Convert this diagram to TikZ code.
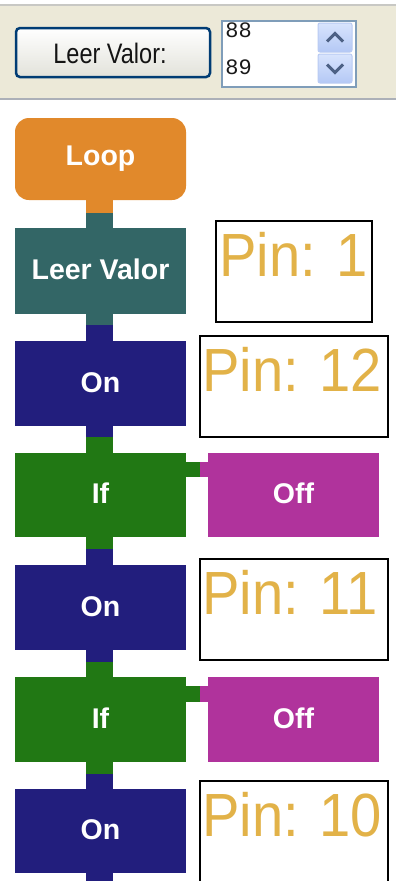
\documentclass[tikz,border=0pt]{standalone}
\usepackage{fontspec}
\setmainfont{Liberation Sans}
\newfontfamily\monof{Liberation Mono}
\usetikzlibrary{calc}
\definecolor{panelbg}{RGB}{236,233,216}
\definecolor{toplinec}{RGB}{200,200,196}
\definecolor{botlinec}{RGB}{172,176,184}
\definecolor{btnborder}{RGB}{0,60,116}
\definecolor{lstborder}{RGB}{127,157,185}
\definecolor{sbtop}{RGB}{216,228,253}
\definecolor{sbbot}{RGB}{180,200,245}
\definecolor{sbborder}{RGB}{185,203,243}
\definecolor{chevc}{RGB}{77,97,133}
\definecolor{cloop}{RGB}{225,137,43}
\definecolor{cteal}{RGB}{51,102,102}
\definecolor{cnavy}{RGB}{34,30,125}
\definecolor{cgreen}{RGB}{33,120,20}
\definecolor{cmag}{RGB}{176,51,156}
\definecolor{cgold}{RGB}{226,178,72}
\newcommand{\stubdown}[5]{%
  \fill[#3] ($(#1.south)+(-14.5,0)$) rectangle ($(#1.south)+(12.5,-#5)$);
  \fill[#4] ($(#1.south)+(-14.5,-#5)$) rectangle ($(#2.north)+(12.5,0)$);}
\newcommand{\stubside}[4]{%
  \fill[cgreen] ($(#1.north east)+(0,-#3)$) rectangle ($(#1.north east)+(14,-#4)$);
  \fill[cmag] ($(#1.north east)+(14,-#3)$) rectangle ($(#2.north west)+(0,-#4)$);}
\begin{document}
\begin{tikzpicture}[x=1pt,y=1pt,
  blk/.style={minimum width=171pt, minimum height=85pt, inner sep=0pt,
    text=white, font=\bfseries\fontsize{28.5}{28.5}\selectfont,
    text height=17pt, text depth=0pt},
  pinbox/.style={draw=black, line width=2pt, fill=white, inner sep=0pt,
    minimum height=101pt},
  pintext/.style={text=cgold, anchor=base west, inner sep=0pt,
    font=\fontsize{61}{61}\selectfont},
  sbbtn/.style={draw=sbborder, line width=1pt, rounded corners=2pt,
    top color=sbtop, bottom color=sbbot, minimum width=34pt,
    minimum height=29pt, inner sep=0pt},
  chev/.style={draw=chevc, line width=3pt}]
\useasboundingbox (0,0) rectangle (396,-881);
\fill[white] (0,0) rectangle (396,-881);
% ---- top panel ----
\fill[panelbg] (0,-4) rectangle (396,-99);
\draw[toplinec, line width=2pt] (0,-5) -- (396,-5);
\draw[botlinec, line width=2pt] (0,-99) -- (396,-99);
\node[draw=btnborder, line width=2.5pt, rounded corners=4pt,
  top color=white, bottom color={rgb,255:red,226;green,226;blue,218},
  minimum width=194pt, minimum height=49pt, inner sep=0pt]
  (btn) at (113,-52.5) {};
\node[anchor=base, inner sep=0pt, font=\fontsize{24.5}{24.5}\selectfont,
  text={rgb,255:red,20;green,20;blue,20}]
  (btntext) at ($(btn.center)+(-3,-10.5)$) {\scalebox{0.96}[1.15]{Leer Valor:}};
\node[draw=lstborder, line width=1.5pt, fill=white, minimum width=134pt,
  minimum height=66pt, inner sep=0pt] (lst) at (289,-54) {};
\node[anchor=base west, inner sep=0pt, font=\monof\fontsize{22}{22}\selectfont,
  text={rgb,255:red,25;green,25;blue,25}]
  (v88) at ($(lst.north west)+(4,-17)$) {88};
\node[anchor=base west, inner sep=0pt, font=\monof\fontsize{22}{22}\selectfont,
  text={rgb,255:red,25;green,25;blue,25}]
  (v89) at ($(lst.north west)+(4,-54)$) {89};
\node[sbbtn] (sbup) at (335,-37.5) {};
\node[sbbtn] (sbdn) at (335,-68.5) {};
\draw[chev] ($(sbup.center)+(-8,-4)$) -- ($(sbup.center)+(0,4)$) -- ($(sbup.center)+(8,-4)$);
\draw[chev] ($(sbdn.center)+(-8,4)$) -- ($(sbdn.center)+(0,-4)$) -- ($(sbdn.center)+(8,4)$);
% ---- blocks ----
\node[blk, fill=cloop, rounded corners=14pt, minimum height=82pt, text height=12pt]
  (loop) at (100.5,-159) {Loop};
\node[blk, fill=cteal, minimum height=86pt] (leer) at (100.5,-271) {Leer Valor};
\node[blk, fill=cnavy] (on1) at (100.5,-383.5) {On};
\node[blk, fill=cgreen, minimum height=84pt] (if1) at (100.5,-495) {If};
\node[blk, fill=cmag, minimum height=84pt] (off1) at (293.5,-495) {Off};
\node[blk, fill=cnavy] (on2) at (100.5,-607.5) {On};
\node[blk, fill=cgreen, minimum height=85pt] (if2) at (100.5,-719.5) {If};
\node[blk, fill=cmag, minimum height=85pt] (off2) at (293.5,-719.5) {Off};
\node[blk, fill=cnavy, minimum height=84pt] (on3) at (100.5,-831) {On};
\coordinate (bottomend) at (100.5,-885);
% ---- connectors ----
\stubdown{loop}{leer}{cloop}{cteal}{13}
\stubdown{leer}{on1}{cteal}{cnavy}{11}
\stubdown{on1}{if1}{cnavy}{cgreen}{11}
\stubdown{if1}{on2}{cgreen}{cnavy}{12}
\stubdown{on2}{if2}{cnavy}{cgreen}{12}
\stubdown{if2}{on3}{cgreen}{cnavy}{12}
\fill[cnavy] ($(on3.south)+(-14.5,0)$) rectangle ($(bottomend)+(12.5,0)$);
\stubside{if1}{off1}{9}{24}
\stubside{if2}{off2}{9}{25}
% ---- pin boxes ----
\node[pinbox, minimum width=156pt] (pin1) at (294,-271.5) {};
\node[pintext] (pin1t) at ($(pin1.north west)+(4,-56)$) {\scalebox{0.92}[1]{Pin: 1}};
\node[pinbox, minimum width=188pt] (pin12) at (294,-386.5) {};
\node[pintext] (pin12t) at ($(pin12.north west)+(3,-56)$) {\scalebox{0.92}[1]{Pin: 12}};
\node[pinbox, minimum width=188pt] (pin11) at (294,-609.5) {};
\node[pintext] (pin11t) at ($(pin11.north west)+(3,-56)$) {\scalebox{0.92}[1]{Pin: 11}};
\node[pinbox, minimum width=188pt] (pin10) at (294,-831.5) {};
\node[pintext] (pin10t) at ($(pin10.north west)+(3,-56)$) {\scalebox{0.92}[1]{Pin: 10}};
\end{tikzpicture}
\end{document}
